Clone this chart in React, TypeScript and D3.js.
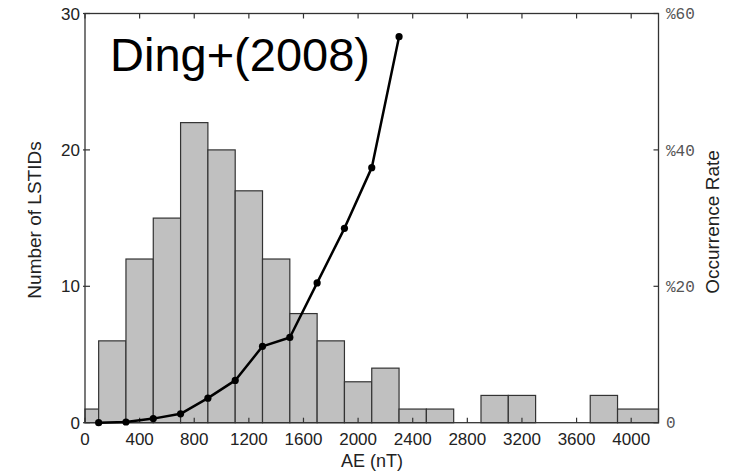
import React from "react";
import * as d3 from "d3";

const binLower = [-100, 100, 300, 500, 700, 900, 1100, 1300, 1500, 1700, 1900, 2100, 2300, 2500, 2700, 2900, 3100, 3300, 3500, 3700, 3900];
const binUpper = [100, 300, 500, 700, 900, 1100, 1300, 1500, 1700, 1900, 2100, 2300, 2500, 2700, 2900, 3100, 3300, 3500, 3700, 3900, 4300];
const counts = [1, 6, 12, 15, 22, 20, 17, 12, 8, 6, 3, 4, 1, 1, 0, 2, 2, 0, 0, 2, 1];

const rateAE = [100, 300, 500, 700, 900, 1100, 1300, 1500, 1700, 1900, 2100, 2300];
const rateValues = [0, 0.1, 0.6, 1.3, 3.6, 6.2, 11.2, 12.5, 20.5, 28.5, 37.4, 56.6];

const xTicks = [0, 400, 800, 1200, 1600, 2000, 2400, 2800, 3200, 3600, 4000];
const yLeftTicks = [0, 10, 20, 30];
const yRightTicks = [0, 20, 40, 60];
const yRightLabels = ["0", "%20", "%40", "%60"];

export default function App() {
  const W = 741, H = 471;
  const L = 85, R = 658.5, T = 13.5, B = 422.7;
  const x = d3.scaleLinear().domain([0, 4200]).range([L, R]);
  const yL = d3.scaleLinear().domain([0, 30]).range([B, T]);
  const yR = d3.scaleLinear().domain([0, 60]).range([B, T]);
  const line = d3.line<number>().x((_, i) => x(rateAE[i])).y((v) => yR(v));
  const sans = "'Liberation Sans', Arial, Helvetica, sans-serif";
  const mono = "'Liberation Mono', 'Courier New', monospace";
  const axisColor = "#333";

  return (
    <svg width={W} height={H} style={{ position: "absolute", left: 0, top: 0, background: "#fff" }}>
      <rect x={0} y={0} width={W} height={H} fill="#fff" />
      {counts.map((c, i) => {
        if (c <= 0) return null;
        const x0 = x(Math.max(0, binLower[i]));
        const x1 = x(Math.min(4200, binUpper[i]));
        return (
          <rect key={i} x={x0} y={yL(c)} width={x1 - x0} height={B - yL(c)}
            fill="#c0c0c0" stroke="#333" strokeWidth={1.2} />
        );
      })}
      <rect x={L} y={T} width={R - L} height={B - T} fill="none" stroke={axisColor} strokeWidth={1.3} />
      {xTicks.map((t) => (
        <g key={t}>
          <line x1={x(t)} x2={x(t)} y1={B} y2={B - 5} stroke={axisColor} strokeWidth={1.2} />
          <line x1={x(t)} x2={x(t)} y1={T} y2={T + 5} stroke={axisColor} strokeWidth={1.2} />
          <text x={x(t)} y={445} textAnchor="middle" fontFamily={sans} fontSize={17} fill="#222">{t}</text>
        </g>
      ))}
      {yLeftTicks.map((t) => (
        <g key={t}>
          <line x1={L - 2} x2={L + 5} y1={yL(t)} y2={yL(t)} stroke={axisColor} strokeWidth={1.2} />
          <text x={80} y={yL(t)} dy="0.36em" textAnchor="end" fontFamily={sans} fontSize={17} fill="#222">{t}</text>
        </g>
      ))}
      {yRightTicks.map((t, i) => (
        <g key={t}>
          <line x1={R - 5} x2={R} y1={yR(t)} y2={yR(t)} stroke={axisColor} strokeWidth={1.2} />
          <text x={666} y={yR(t)} dy="0.36em" textAnchor="start" fontFamily={mono} fontSize={16} fill="#555">{yRightLabels[i]}</text>
        </g>
      ))}
      <path d={line(rateValues) || ""} fill="none" stroke="#000" strokeWidth={2.5} strokeLinejoin="round" />
      {rateValues.map((v, i) => (
        <circle key={i} cx={x(rateAE[i])} cy={yR(v)} r={3.6} fill="#000" />
      ))}
      <text x={110} y={70.5} fontFamily={sans} fontSize={47} fill="#000">Ding+(2008)</text>
      <text x={372} y={467} textAnchor="middle" fontFamily={sans} fontSize={18} fill="#222">AE (nT)</text>
      <text transform="translate(41,220) rotate(-90)" textAnchor="middle" fontFamily={sans} fontSize={19} fill="#222">Number of LSTIDs</text>
      <text transform="translate(719,222) rotate(-90)" textAnchor="middle" fontFamily={sans} fontSize={19} fill="#222">Occurrence Rate</text>
    </svg>
  );
}
